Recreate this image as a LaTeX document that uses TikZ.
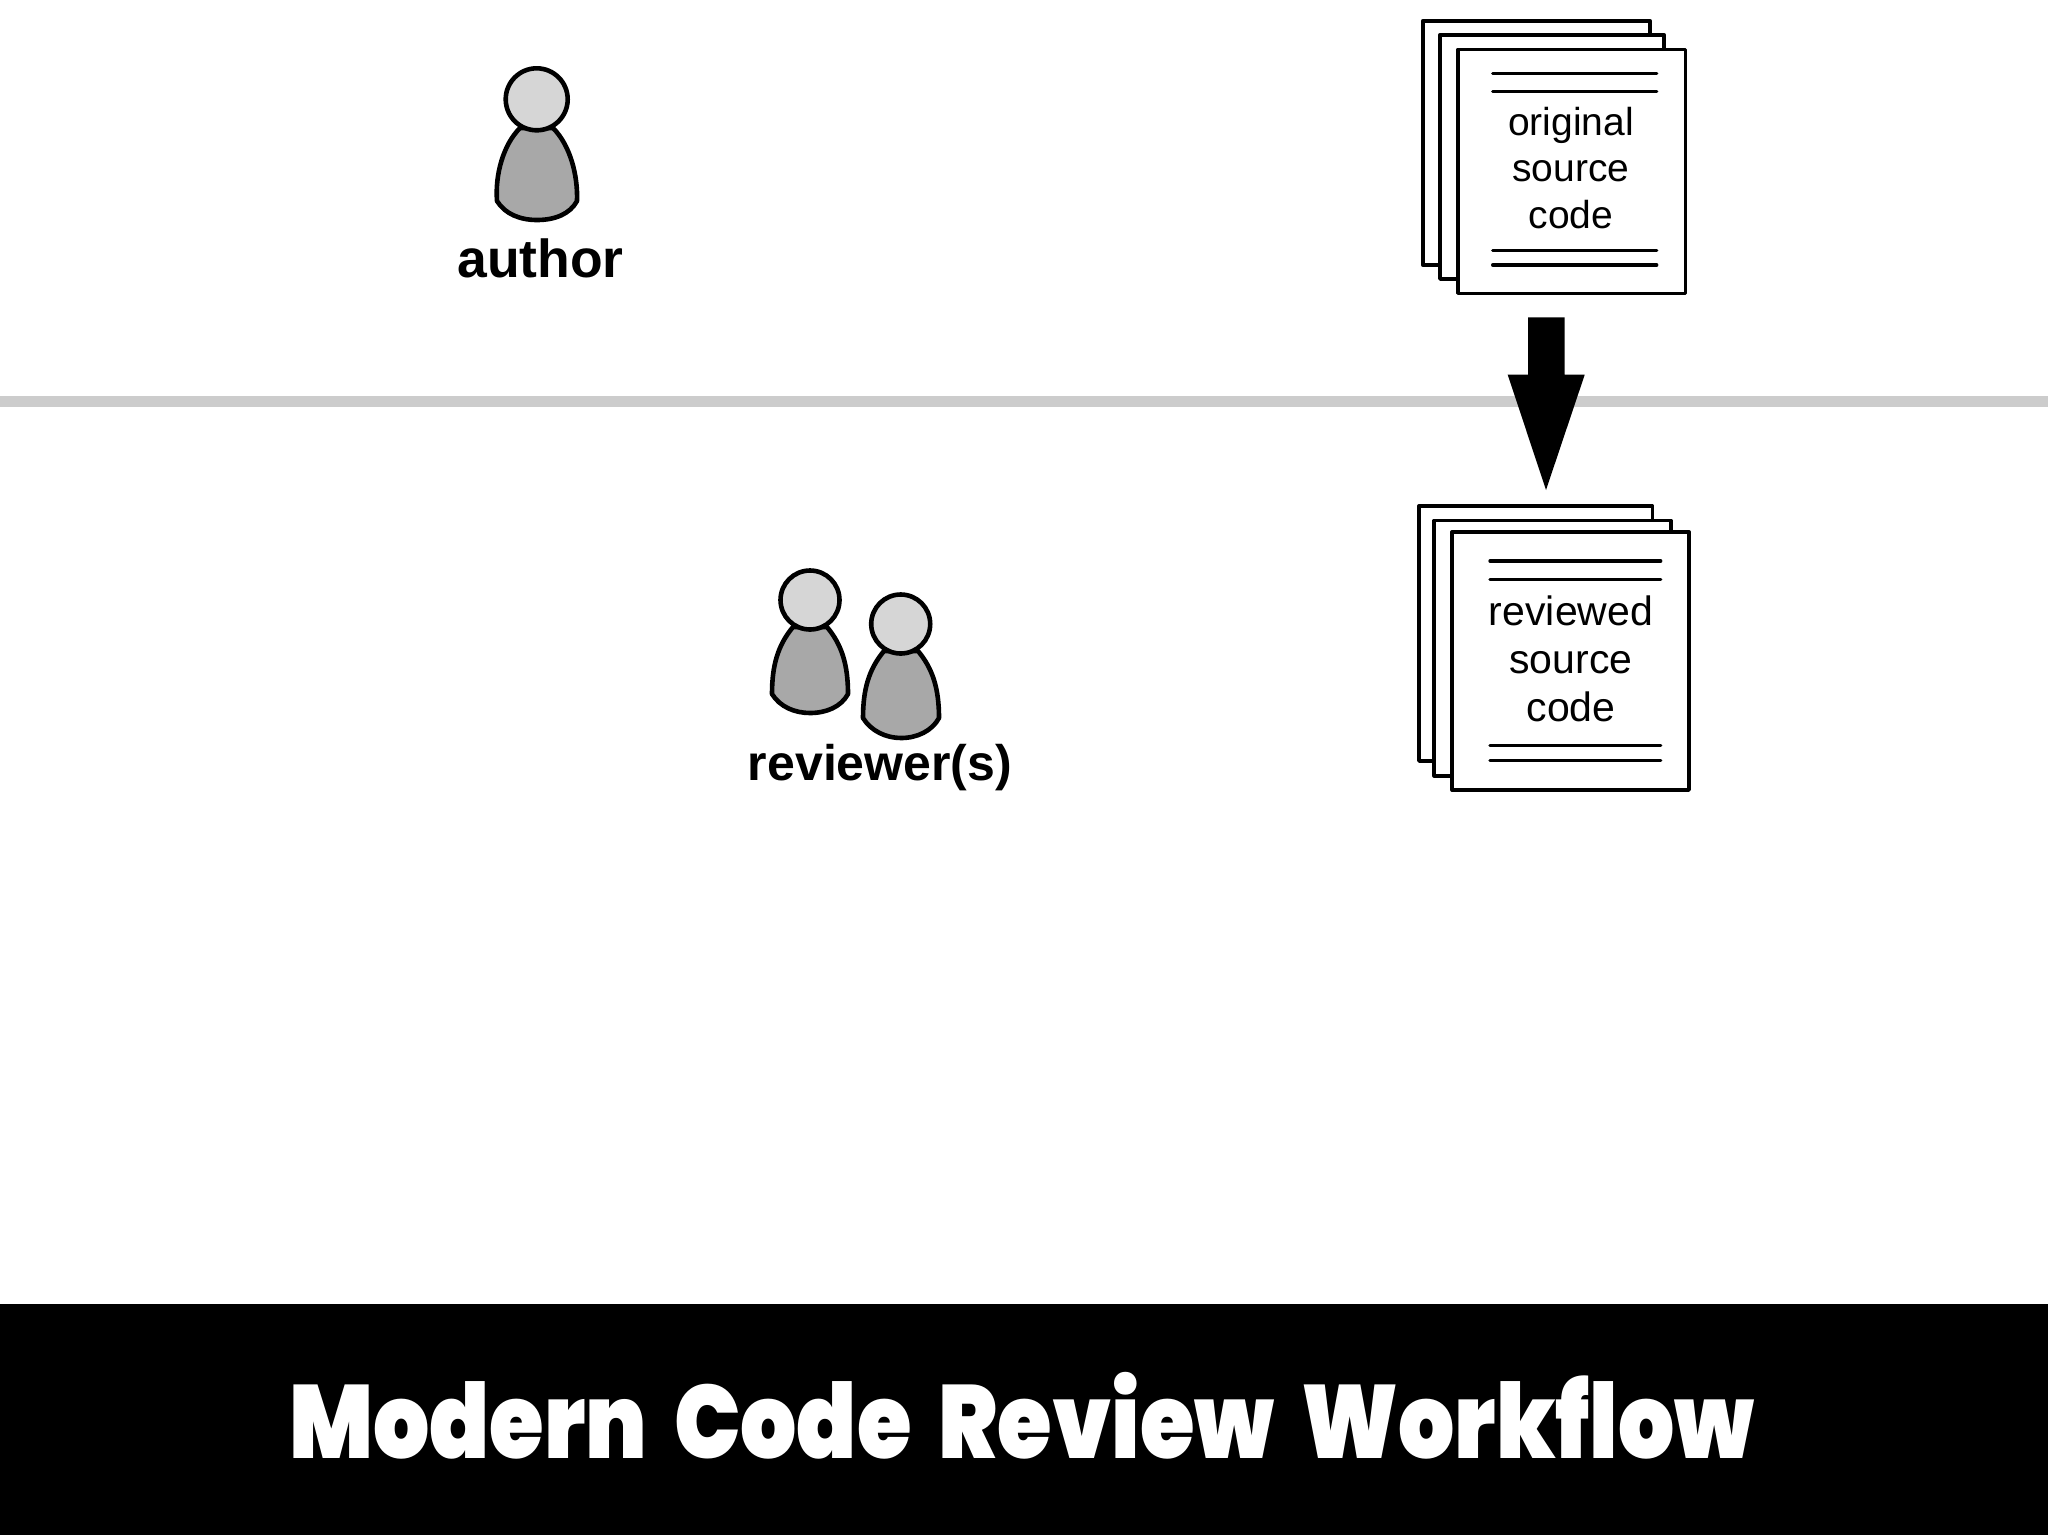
\documentclass[tikz,border=0pt]{standalone}
\usepackage{fontspec}
\setmainfont{Liberation Sans}
\newfontfamily\titlefont[FakeStretch=0.85,WordSpace=1.8]{Poppins Black}
\tikzset{
  px/.style={x=1pt,y=-1pt},
  sheet/.style={draw=black,fill=white,line width=3.6pt,line join=round},
  rule/.style={draw=black,line width=3.4pt,line cap=round},
  head/.style={draw=black,fill=black!16,line width=4.6pt},
  torso/.style={draw=black,fill=black!34,line width=4.6pt,line join=round},
  doctext/.style={inner sep=0pt,anchor=base,text=black},
  who/.style={inner sep=0pt,anchor=base,text=black,font=\bfseries}
}
\begin{document}
\begin{tikzpicture}[px]
\useasboundingbox (0,0) rectangle (2048,1535);
\fill[white] (0,0) rectangle (2048,1535);
% separator and title band
\fill[black!20] (0,396) rectangle (2048,406.5);
\fill[black] (0,1303.5) rectangle (2048,1535);
\node[inner sep=0pt,anchor=base,text=white,font=\titlefont\fontsize{104}{110}\selectfont] (title) at (1022,1458) {Modern Code Review Workflow};
% author
\draw[torso] (520,128) .. controls (503,145) and (495,175) .. (497,201) .. controls (505,214) and (520,220) .. (537,220) .. controls (555,220) and (570,214) .. (577,201) .. controls (578,175) and (570,145) .. (553,128) -- cycle;
\node[head,circle,minimum size=62pt,inner sep=0pt] (authorhead) at (536.7,99.3) {};
\node[who,font=\bfseries\fontsize{53.5}{57}\selectfont] (author) at (540.5,277.5) {author};
% reviewers
\draw[torso] (793,627) .. controls (778,645) and (772,665) .. (772,694) .. controls (780,707) and (795,713) .. (810,713) .. controls (826,713) and (841,707) .. (848,694) .. controls (848,665) and (842,645) .. (827,627) -- cycle;
\node[head,circle,minimum size=59pt,inner sep=0pt] (revheada) at (810,600) {};
\draw[torso] (884,651) .. controls (869,669) and (863,689) .. (863,718) .. controls (871,731) and (886,738) .. (901,738) .. controls (917,738) and (932,731) .. (939,718) .. controls (939,689) and (933,669) .. (918,651) -- cycle;
\node[head,circle,minimum size=59pt,inner sep=0pt] (revheadb) at (900.7,624) {};
\node[who,font=\bfseries\fontsize{50}{54}\selectfont] (reviewers) at (880,780) {reviewer(s)};
% original source code stack
\draw[sheet] (1422.7,20.7) rectangle (1650,265);
\draw[sheet] (1440,34.7) rectangle (1664,279);
\draw[sheet] (1458,49.3) rectangle (1685.3,293.3);
\draw[rule] (1492.7,73.7) -- (1656.7,73.7);
\draw[rule] (1492.7,91.3) -- (1656.7,91.3);
\draw[rule] (1492.7,250.7) -- (1656.7,250.7);
\draw[rule] (1492.7,265) -- (1656.7,265);
\node[doctext,font=\fontsize{39}{43}\selectfont] (origa) at (1571,135) {original};
\node[doctext,font=\fontsize{39}{43}\selectfont] (origb) at (1571,181) {source};
\node[doctext,font=\fontsize{39}{43}\selectfont] (origc) at (1571,228) {code};
% arrow
\fill[black] (1528,317.3) -- (1564.7,317.3) -- (1564.7,374.7) -- (1584.7,374.7) -- (1546,490) -- (1507.7,374.7) -- (1528,374.7) -- cycle;
% reviewed source code stack
\draw[sheet] (1419,505.8) rectangle (1652.3,761);
\draw[sheet] (1434,520.5) rectangle (1671,775.7);
\draw[sheet] (1452.2,531.8) rectangle (1689,790);
\draw[rule] (1490,561) -- (1660.7,561);
\draw[rule] (1490,579.3) -- (1660.7,579.3);
\draw[rule] (1490,745.7) -- (1660.7,745.7);
\draw[rule] (1490,760.7) -- (1660.7,760.7);
\node[doctext,font=\fontsize{41}{45}\selectfont] (reva) at (1571,625) {reviewed};
\node[doctext,font=\fontsize{41}{45}\selectfont] (revb) at (1571,673.5) {source};
\node[doctext,font=\fontsize{41}{45}\selectfont] (revc) at (1571,721.5) {code};
\end{tikzpicture}
\end{document}
